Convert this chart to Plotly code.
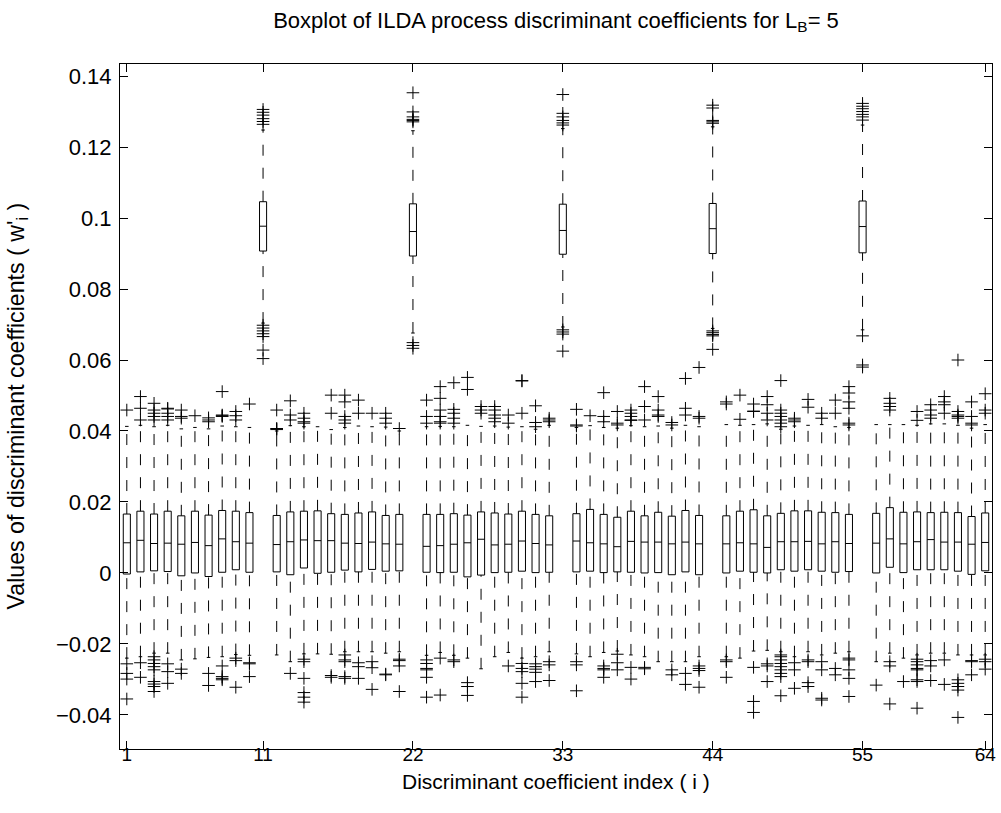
import plotly.graph_objects as go

# ---------------- data ----------------
index = list(range(1, 65))

q3 = [0.0166, 0.0174, 0.0166, 0.0174, 0.0161, 0.0174, 0.0163, 0.0176, 0.0174, 0.0170,
      0.1046, 0.0162, 0.0172, 0.0174, 0.0175, 0.0167, 0.0165, 0.0169, 0.0172, 0.0162,
      0.0165, 0.1040, 0.0165, 0.0165, 0.0167, 0.0163, 0.0172, 0.0169, 0.0166, 0.0174,
      0.0165, 0.0161, 0.1039, 0.0167, 0.0179, 0.0165, 0.0157, 0.0174, 0.0161, 0.0171,
      0.0160, 0.0176, 0.0162, 0.1041, 0.0161, 0.0174, 0.0178, 0.0161, 0.0168, 0.0175,
      0.0175, 0.0171, 0.0170, 0.0165, 0.1048, 0.0168, 0.0184, 0.0171, 0.0172, 0.0170,
      0.0171, 0.0170, 0.0159, 0.0169]

median = [0.0085, 0.0092, 0.0083, 0.0084, 0.0081, 0.0086, 0.0077, 0.0096, 0.0088, 0.0084,
          0.0977, 0.0080, 0.0088, 0.0093, 0.0091, 0.0091, 0.0084, 0.0083, 0.0087, 0.0082,
          0.0081, 0.0962, 0.0075, 0.0077, 0.0081, 0.0085, 0.0095, 0.0079, 0.0081, 0.0090,
          0.0083, 0.0079, 0.0965, 0.0090, 0.0085, 0.0082, 0.0074, 0.0089, 0.0087, 0.0087,
          0.0082, 0.0087, 0.0082, 0.0970, 0.0082, 0.0085, 0.0082, 0.0072, 0.0088, 0.0088,
          0.0089, 0.0082, 0.0088, 0.0083, 0.0976, 0.0084, 0.0096, 0.0082, 0.0088, 0.0094,
          0.0087, 0.0087, 0.0081, 0.0086]

q1 = [-0.0003, 0.0003, 0.0006, 0.0004, -0.0008, 0.0000, -0.0010, 0.0002, 0.0009, 0.0002,
      0.0907, 0.0003, -0.0005, 0.0014, -0.0001, 0.0002, 0.0008, 0.0003, 0.0010, 0.0005,
      0.0006, 0.0893, 0.0002, 0.0001, 0.0002, -0.0011, -0.0006, 0.0001, 0.0002, 0.0005,
      0.0001, 0.0002, 0.0898, 0.0003, 0.0005, 0.0001, 0.0003, 0.0002, 0.0000, 0.0001,
      -0.0005, 0.0003, -0.0005, 0.0900, 0.0000, 0.0005, 0.0002, 0.0000, 0.0009, 0.0005,
      0.0009, 0.0005, 0.0002, 0.0004, 0.0902, 0.0000, 0.0016, 0.0001, 0.0009, 0.0009,
      0.0009, 0.0005, -0.0004, 0.0006]

upper_whisker = [0.0413, 0.0416, 0.0412, 0.0416, 0.0406, 0.0410, 0.0406, 0.0414, 0.0412, 0.0410,
                 0.1248, 0.0400, 0.0415, 0.0412, 0.0412, 0.0404, 0.0410, 0.0414, 0.0412, 0.0411,
                 0.0400, 0.1246, 0.0412, 0.0413, 0.0412, 0.0416, 0.0413, 0.0414, 0.0411, 0.0412,
                 0.0405, 0.0416, 0.1252, 0.0410, 0.0415, 0.0410, 0.0408, 0.0415, 0.0412, 0.0414,
                 0.0408, 0.0416, 0.0412, 0.1257, 0.0418, 0.0416, 0.0418, 0.0420, 0.0405, 0.0414,
                 0.0416, 0.0418, 0.0412, 0.0410, 0.1262, 0.0418, 0.0418, 0.0418, 0.0416, 0.0420,
                 0.0420, 0.0416, 0.0408, 0.0418]

lower_whisker = [-0.0240, -0.0236, -0.0226, -0.0226, -0.0245, -0.0242, -0.0238, -0.0236, -0.0230, -0.0232,
                 0.0704, -0.0231, -0.0250, -0.0228, -0.0228, -0.0229, -0.0222, -0.0222, -0.0222, -0.0226,
                 -0.0222, 0.0676, -0.0232, -0.0224, -0.0232, -0.0240, -0.0270, -0.0236, -0.0224, -0.0240,
                 -0.0236, -0.0222, 0.0693, -0.0228, -0.0236, -0.0224, -0.0220, -0.0231, -0.0236, -0.0250,
                 -0.0250, -0.0250, -0.0236, 0.0689, -0.0236, -0.0240, -0.0220, -0.0218, -0.0222, -0.0236,
                 -0.0222, -0.0231, -0.0226, -0.0222, 0.0685, -0.0250, -0.0226, -0.0240, -0.0231, -0.0226,
                 -0.0226, -0.0231, -0.0231, -0.0231]

upper_outliers = [
    [0.0459], [0.0497, 0.0464, 0.0431], [0.0478, 0.0459, 0.0450, 0.0441, 0.0431],
    [0.0464, 0.0462, 0.0450, 0.0441, 0.0431], [0.0459, 0.0441, 0.0436], [0.0443],
    [0.0437, 0.0431, 0.0426], [0.0511, 0.0445, 0.0443, 0.0441], [0.0455, 0.0443, 0.0431],
    [0.0476],
    [0.1306, 0.1298, 0.1290, 0.1280, 0.1272, 0.1264],
    [0.0459, 0.0407, 0.0406, 0.0404], [0.0485, 0.0445, 0.0431], [0.0450, 0.0436, 0.0426, 0.0422],
    [], [0.0501, 0.0450], [0.0501, 0.0482, 0.0441, 0.0431, 0.0422], [0.0487, 0.0450],
    [0.0450], [0.0450, 0.0436, 0.0422], [0.0407],
    [0.1353, 0.1299, 0.1285, 0.1278, 0.1275, 0.1271],
    [0.0487, 0.0441, 0.0422], [0.0525, 0.0492, 0.0459, 0.0441, 0.0426, 0.0422],
    [0.0536, 0.0461, 0.0450, 0.0436, 0.0422], [0.0551, 0.0517], [0.0469, 0.0459, 0.0450],
    [0.0469, 0.0459, 0.0445, 0.0436, 0.0426], [0.0445, 0.0422], [0.0542, 0.0541, 0.0450],
    [0.0471, 0.0424, 0.0412], [0.0436, 0.0431, 0.0426],
    [0.1348, 0.1295, 0.1285, 0.1275, 0.1268, 0.1262],
    [0.0461, 0.0417, 0.0414], [0.0443], [0.0508, 0.0441, 0.0426], [0.0455, 0.0422, 0.0417],
    [0.0459, 0.0450, 0.0441, 0.0431, 0.0430], [0.0525, 0.0469, 0.0431],
    [0.0497, 0.0459, 0.0445, 0.0441], [0.0424, 0.0417], [0.0548, 0.0464, 0.0445],
    [0.0579, 0.0441, 0.0436],
    [0.1318, 0.1310, 0.1275, 0.1271, 0.1267],
    [0.0482, 0.0476], [0.0501, 0.0433], [0.0476, 0.0456, 0.0455], [0.0497, 0.0474, 0.0450, 0.0431],
    [0.0542, 0.0459, 0.0450, 0.0441, 0.0431, 0.0422, 0.0412], [0.0436, 0.0431, 0.0426],
    [0.0489, 0.0467], [0.0450, 0.0436], [0.0487, 0.0450],
    [0.0525, 0.0507, 0.0482, 0.0464, 0.0422, 0.0417],
    [0.1323, 0.1315, 0.1308, 0.1300, 0.1292, 0.1285, 0.1276],
    [], [0.0492, 0.0478, 0.0469, 0.0459], [], [0.0455, 0.0430], [0.0474, 0.0459, 0.0445, 0.0436],
    [0.0497, 0.0482, 0.0474, 0.0450], [0.0600, 0.0455, 0.0445, 0.0441, 0.0436],
    [0.0482, 0.0441, 0.0422, 0.0417], [0.0505, 0.0459, 0.0450],
]

lower_outliers = [
    [-0.0256, -0.0283, -0.0299, -0.0355], [-0.0253, -0.0294],
    [-0.0236, -0.0245, -0.0255, -0.0264, -0.0273, -0.0306, -0.0313, -0.0320, -0.0334],
    [-0.0256, -0.0278, -0.0311], [-0.0271, -0.0283], [], [-0.0283, -0.0317],
    [-0.0262, -0.0292, -0.0297, -0.0301], [-0.0240, -0.0247, -0.0322], [-0.0253, -0.0256, -0.0292],
    [0.0698, 0.0690, 0.0682, 0.0674, 0.0666, 0.0628, 0.0604],
    [], [-0.0283], [-0.0243, -0.0250, -0.0297, -0.0337, -0.0350, -0.0364], [], [-0.0289, -0.0294],
    [-0.0231, -0.0245, -0.0250, -0.0292, -0.0297], [-0.0253, -0.0264, -0.0297],
    [-0.0250, -0.0267, -0.0328], [-0.0285, -0.0287], [-0.0243, -0.0247, -0.0262, -0.0334],
    [0.0649, 0.0641, 0.0633],
    [-0.0245, -0.0255, -0.0269, -0.0273, -0.0294, -0.0350], [-0.0240, -0.0344], [-0.0245, -0.0250],
    [-0.0309, -0.0320, -0.0345], [], [], [-0.0262], [-0.0255, -0.0269, -0.0278, -0.0311, -0.0350],
    [-0.0256, -0.0264, -0.0271, -0.0280, -0.0306], [-0.0250, -0.0259, -0.0303],
    [0.0685, 0.0679, 0.0673, 0.0625],
    [-0.0250, -0.0259, -0.0332], [], [-0.0262, -0.0269, -0.0273, -0.0294], [-0.0229, -0.0253, -0.0273],
    [-0.0266, -0.0299], [-0.0266, -0.0270], [], [-0.0273, -0.0287], [-0.0283, -0.0314],
    [-0.0262, -0.0269, -0.0275, -0.0322],
    [0.0682, 0.0677, 0.0672, 0.0668, 0.0630],
    [-0.0245, -0.0250, -0.0294], [], [-0.0266, -0.0362, -0.0393], [-0.0256, -0.0262, -0.0306],
    [-0.0231, -0.0236, -0.0245, -0.0255, -0.0264, -0.0273, -0.0283, -0.0292, -0.0346],
    [-0.0253, -0.0273, -0.0325], [-0.0245, -0.0250, -0.0309, -0.0320],
    [-0.0250, -0.0273, -0.0353, -0.0358], [-0.0269, -0.0287],
    [-0.0240, -0.0245, -0.0273, -0.0297, -0.0348],
    [0.0668, 0.0586, 0.0580],
    [-0.0316], [-0.0250, -0.0262, -0.0369], [-0.0306],
    [-0.0243, -0.0250, -0.0259, -0.0269, -0.0273, -0.0301, -0.0306, -0.0381],
    [-0.0247, -0.0262, -0.0303], [-0.0245, -0.0314], [-0.0301, -0.0311, -0.0320, -0.0330, -0.0407],
    [-0.0247, -0.0250, -0.0287], [-0.0243, -0.0250, -0.0271],
]

x_tick_vals = [1, 11, 22, 33, 44, 55, 64]
y_tick_vals = [-0.04, -0.02, 0, 0.02, 0.04, 0.06, 0.08, 0.1, 0.12, 0.14]
y_tick_text = ["\u22120.04", "\u22120.02", "0", "0.02", "0.04", "0.06", "0.08", "0.1", "0.12", "0.14"]

title_text = "Boxplot of ILDA process discriminant coefficients for L<sub>B</sub>= 5"
x_label = "Discriminant coefficient index ( i )"
y_label = "Values of discriminant coefficients ( w'<sub>i</sub> )"

# ---------------- figure ----------------
FONT = "Liberation Sans, Arial, Helvetica, sans-serif"
BOX_W = 0.52
CAP_HALF = 0.13

fig = go.Figure()

# dashed whiskers
wx, wy = [], []
for k, a, b, lo, hi in zip(index, q1, q3, lower_whisker, upper_whisker):
    wx += [k, k, None, k, k, None]
    wy += [b, hi, None, lo, a, None]
fig.add_trace(go.Scatter(x=wx, y=wy, mode="lines", hoverinfo="skip",
                         line=dict(color="black", width=1, dash="11px,12px"),
                         showlegend=False))

# whisker end caps
cx, cy = [], []
for k, lo, hi in zip(index, lower_whisker, upper_whisker):
    cx += [k - CAP_HALF, k + CAP_HALF, None, k - CAP_HALF, k + CAP_HALF, None]
    cy += [hi, hi, None, lo, lo, None]
fig.add_trace(go.Scatter(x=cx, y=cy, mode="lines", hoverinfo="skip",
                         line=dict(color="black", width=1), showlegend=False))

# boxes
fig.add_trace(go.Box(x=index, q1=q1, median=median, q3=q3,
                     lowerfence=q1, upperfence=q3,
                     width=BOX_W, whiskerwidth=0, boxpoints=False,
                     fillcolor="rgba(255,255,255,0)",
                     line=dict(color="black", width=1), showlegend=False))

# outliers
ox, oy = [], []
for k, ups, lows in zip(index, upper_outliers, lower_outliers):
    for v in ups + lows:
        ox.append(k)
        oy.append(v)
fig.add_trace(go.Scatter(x=ox, y=oy, mode="markers", showlegend=False,
                         marker=dict(symbol="cross-thin", size=9, color="black",
                                     line=dict(color="black", width=1))))

axis_common = dict(showgrid=False, zeroline=False, showline=True, linecolor="black",
                   linewidth=1, mirror="ticks", ticks="inside", ticklen=8,
                   tickcolor="black", tickwidth=1)

fig.update_layout(
    width=1001, height=813,
    paper_bgcolor="white", plot_bgcolor="white",
    margin=dict(l=120, r=9, t=64, b=64, autoexpand=False),
    showlegend=False,
    title=dict(text=title_text, x=556 / 1001, xref="container", xanchor="center",
               y=1 - 20 / 813, yref="container", yanchor="middle",
               font=dict(family=FONT, size=22, color="black")),
    xaxis=dict(range=[0.5, 64.5], tickvals=x_tick_vals,
               ticktext=[str(v) for v in x_tick_vals], ticklabelstandoff=-12,
               tickfont=dict(family=FONT, size=19, color="black"),
               **axis_common),
    yaxis=dict(range=[-0.0496, 0.1434], tickvals=y_tick_vals, ticktext=y_tick_text,
               ticklabelstandoff=3,
               tickfont=dict(family=FONT, size=22, color="black"),
               **axis_common),
    annotations=[
        dict(text=x_label, xref="paper", yref="paper", x=0.5, y=-(781 - 749) / 685,
             xanchor="center", yanchor="middle", showarrow=False,
             font=dict(family=FONT, size=21, color="black")),
        dict(text=y_label, xref="paper", yref="paper", x=(17 - 120) / 872, y=0.5,
             xanchor="center", yanchor="middle", textangle=-90, showarrow=False,
             font=dict(family=FONT, size=23.2, color="black")),
    ],
)

fig.write_html("out.html", config={"displayModeBar": False},
               post_script="document.body.style.margin='0';")
